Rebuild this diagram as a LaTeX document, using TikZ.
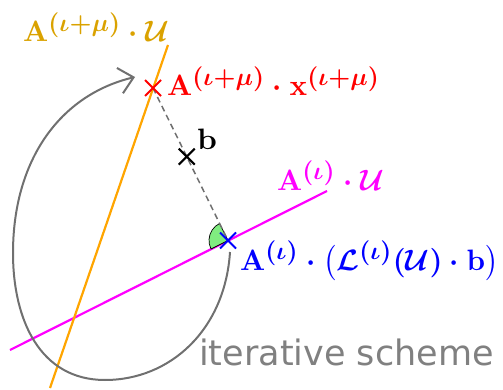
\documentclass[tikz,border=0pt]{standalone}
\usepackage{amsmath}
\usepackage{graphicx}
\usepackage{fontspec}
\newfontfamily\dejavu{DejaVu Sans}
\usetikzlibrary{arrows.meta,shapes.misc,calc}
\definecolor{labelorange}{RGB}{218,162,0}
\definecolor{lineorange}{RGB}{255,165,0}
\definecolor{wedgegreen}{RGB}{128,236,128}
\definecolor{puremagenta}{RGB}{255,0,255}
\definecolor{pureblue}{RGB}{0,0,255}
\definecolor{purered}{RGB}{255,0,0}
\definecolor{midgray}{RGB}{112,112,112}
\newcommand{\biglbl}[2][2.9]{\scalebox{#1}[2.95]{\boldmath$#2$}}
\newcommand{\sups}[1]{^{\scalebox{0.85}{$\textstyle #1$}}}
\tikzset{
  lbl/.style={inner sep=0pt, anchor=base west},
  crossmark/.style={cross out, draw=#1, minimum size=14pt, inner sep=0pt, line width=2pt},
  subspace/.style={line width=2.2pt},
}
\begin{document}
\begin{tikzpicture}[x=1pt,y=-1pt]
\useasboundingbox (0,0) rectangle (503,390);
% subspace lines
\coordinate (m1) at (10,350);
\coordinate (m2) at (327,191);
\coordinate (o1) at (50,388);
\coordinate (o2) at (168,45);
\draw[subspace, puremagenta] (m1) -- (m2);
\draw[subspace, lineorange] (o1) -- (o2);
% points
\coordinate (pr) at (153,88);
\coordinate (pbl) at (228,240.5);
\coordinate (pb) at ($(pr)!0.45!(pbl)$);
% right-angle wedge
\filldraw[fill=wedgegreen, draw=black, line width=0.7pt] (pbl) -- ++(116.3:19pt) arc[start angle=116.3, end angle=206.6, radius=19pt] -- cycle;
% dashed
\draw[midgray, line width=1.5pt, dash pattern=on 6pt off 4pt] (pr) -- (pbl);
% iterative arc
\coordinate (cs) at (230,252);
\coordinate (cb) at (105,380);
\coordinate (cl) at (13,253);
\coordinate (ce) at (135,77);
\draw[line width=2pt, midgray, -{Straight Barb[length=14pt,width=26pt,line width=2pt]}]
  (cs) .. controls (225,330) and (170,380) .. (cb)
       .. controls (40,380) and (13,320) .. (cl)
       .. controls (13,160) and (60,95) .. (ce);
% crosses
\node[crossmark=purered] (xr) at (pr) {};
\node[crossmark=black] (xb) at (pb) {};
\node[crossmark=pureblue] (xbl) at (pbl) {};
% labels
\node[lbl, text=labelorange] (lo) at (23,42) {\biglbl{\mathbf{A}\sups{(\iota{+}\mu)}\cdot\mathcal{U}}};
\node[lbl, text=purered] (lr) at (167,96) {\biglbl{\mathbf{A}\sups{(\iota{+}\mu)}\cdot\mathbf{x}\sups{(\iota{+}\mu)}}};
\node[lbl, text=black] (lb) at (197,150) {\biglbl[3.1]{\mathbf{b}}};
\node[lbl, text=puremagenta] (lm) at (277,190) {\biglbl{\mathbf{A}\sups{(\iota)}\cdot\mathcal{U}}};
\node[lbl, text=pureblue] (lbl2) at (240,270) {\biglbl{\mathbf{A}\sups{(\iota)}\cdot\bigl(\mathcal{L}\sups{(\iota)}(\mathcal{U})\cdot\mathbf{b}\bigr)}};
\node[inner sep=0pt, anchor=base west, text=gray, font=\dejavu\fontsize{35}{42}\selectfont] (lit) at (199,365) {iterative scheme};
\end{tikzpicture}
\end{document}
